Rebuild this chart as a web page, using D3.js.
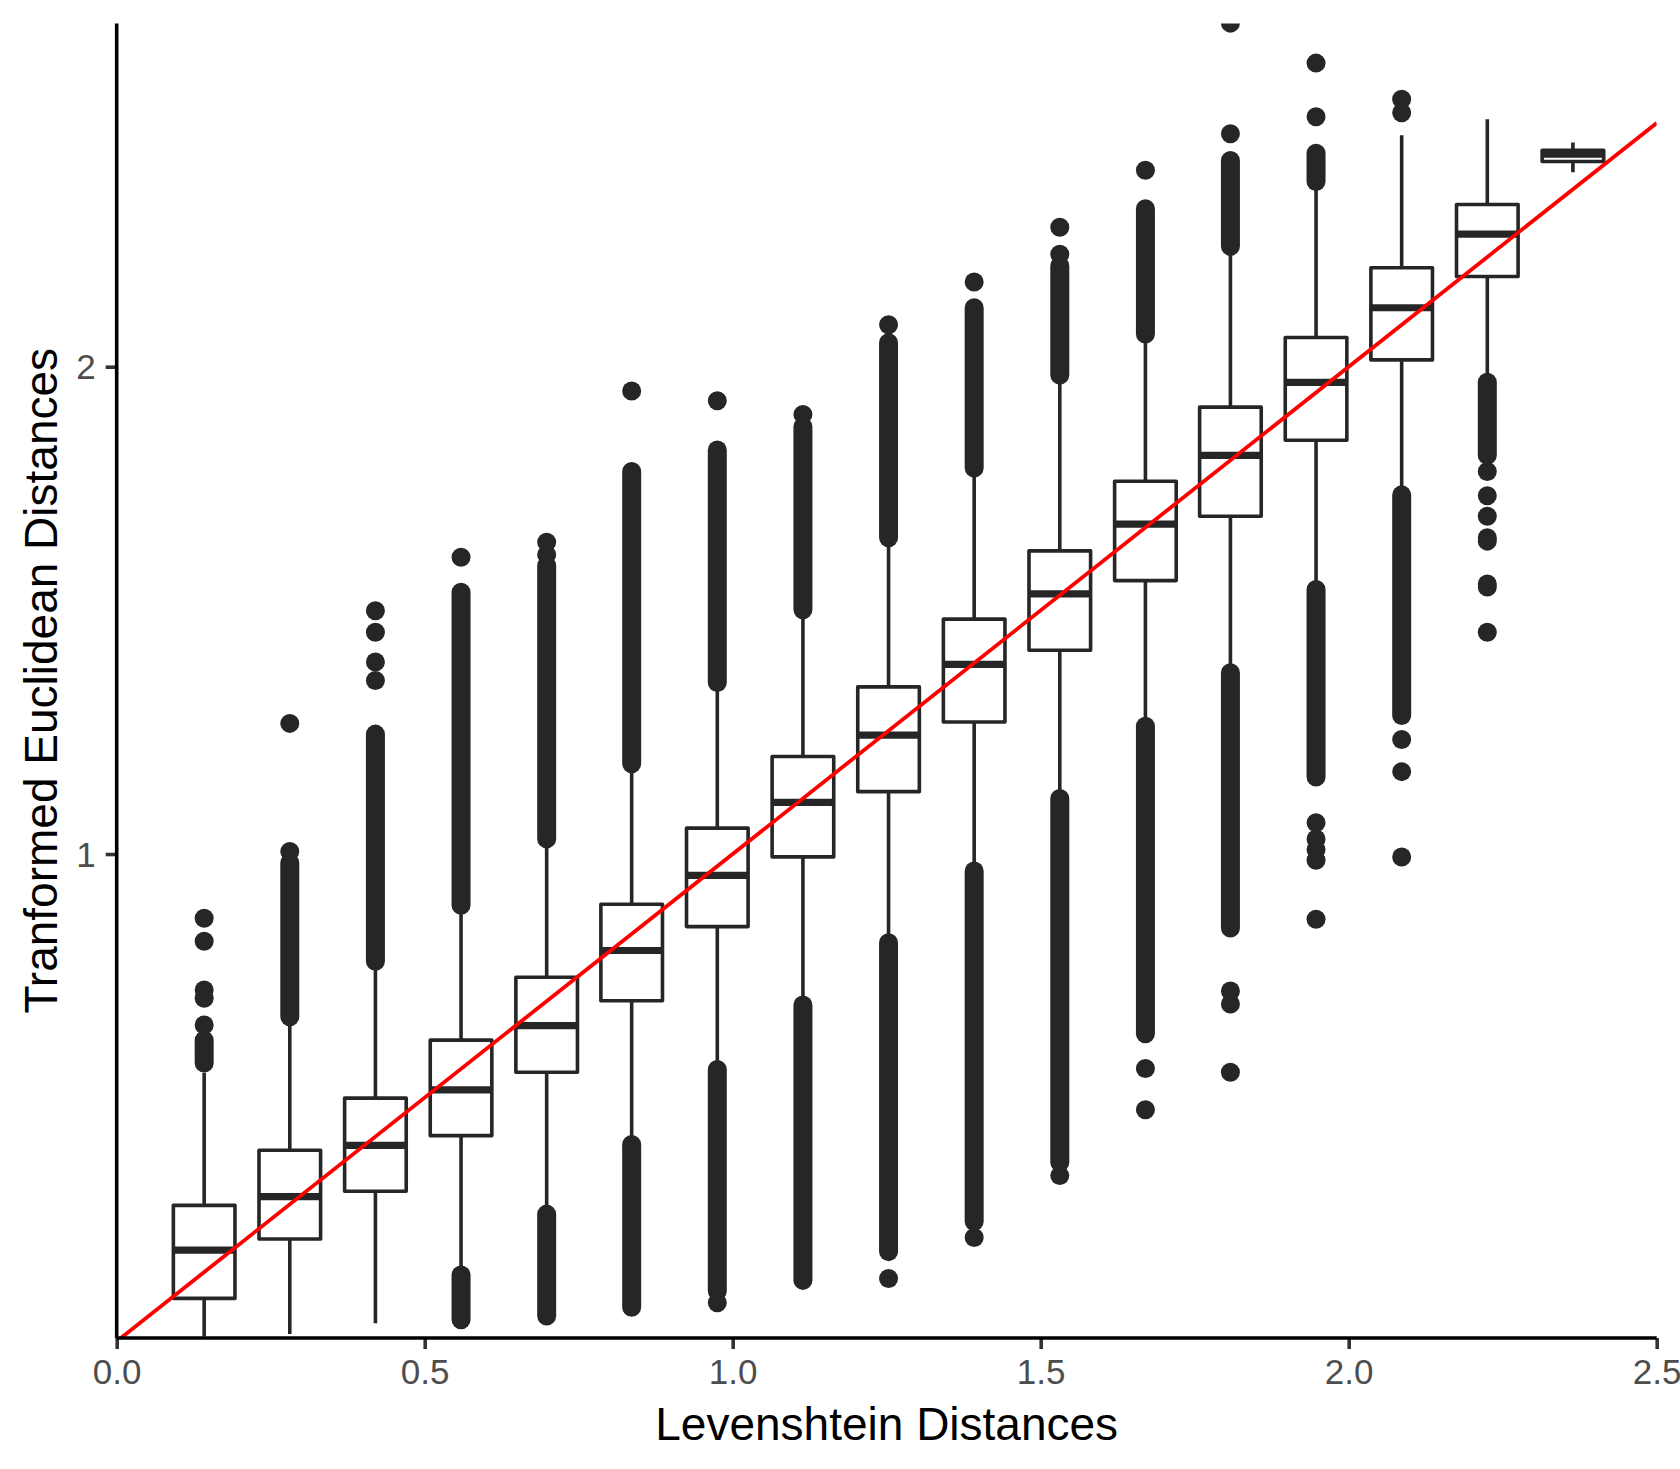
<!DOCTYPE html>
<html>
<head>
<meta charset="utf-8">
<script src="https://cdn.jsdelivr.net/npm/d3@7"></script>
<style>
  body { margin: 0; background: #ffffff; }
  svg { display: block; }
  text { font-family: "Liberation Sans", Arial, Helvetica, sans-serif; }
</style>
</head>
<body>
<div id="chart"></div>
<script>
// Box centres on the Levenshtein axis
var levDist = [0.142, 0.281, 0.420, 0.559, 0.698, 0.836, 0.975, 1.114, 1.253,
  1.392, 1.531, 1.670, 1.808, 1.947, 2.086, 2.225, 2.364];

// Box statistics (transformed euclidean distance)
var whiskerLow = [0.010, 0.015, 0.037, 0.140, 0.268, 0.411, 0.565, 0.697, 0.824,
  0.972, 1.121, 1.268, 1.378, 1.550, 1.745, 1.975, 2.399];
var q1 = [0.088, 0.210, 0.308, 0.422, 0.552, 0.699, 0.851, 0.994, 1.128,
  1.271, 1.418, 1.561, 1.693, 1.849, 2.014, 2.185, 2.421];
var medians = [0.187, 0.297, 0.402, 0.516, 0.648, 0.802, 0.956, 1.106, 1.244,
  1.389, 1.534, 1.677, 1.818, 1.968, 2.121, 2.272, 2.436];
var q3 = [0.279, 0.392, 0.499, 0.618, 0.747, 0.897, 1.053, 1.200, 1.343,
  1.482, 1.622, 1.765, 1.917, 2.060, 2.203, 2.333, 2.444];
var whiskerHigh = [0.551, 0.655, 0.774, 0.888, 1.024, 1.178, 1.345, 1.495, 1.642,
  1.785, 1.979, 2.060, 2.242, 2.374, 2.475, 2.508, 2.460];

// Isolated outliers per box
var outlierPoints = [
  [0.868, 0.821, 0.721, 0.704, 0.649],
  [1.268, 1.005],
  [1.499, 1.455, 1.394, 1.356],
  [1.609],
  [1.640, 1.614],
  [1.950],
  [1.930, 0.079],
  [1.902],
  [2.086, 0.129],
  [2.174, 0.213],
  [2.286, 2.231, 0.340],
  [2.403, 0.560, 0.475],
  [2.705, 2.478, 0.719, 0.692, 0.552],
  [2.623, 2.513, 1.064, 1.031, 1.009, 0.987, 0.866],
  [2.549, 2.521, 1.235, 1.169, 0.994],
  [1.785, 1.735, 1.693, 1.649, 1.642, 1.554, 1.548, 1.455],
  []
];

// Runs of outliers so dense they merge into one column [low, high]
var outlierBands = [
  [[0.571, 0.618]],
  [[0.666, 0.982]],
  [[0.780, 1.246]],
  [[0.895, 1.537], [0.044, 0.136]],
  [[1.031, 1.592], [0.052, 0.261]],
  [[1.185, 1.785], [0.070, 0.404]],
  [[1.352, 1.829], [0.103, 0.558]],
  [[1.501, 1.877], [0.125, 0.690]],
  [[1.649, 2.049], [0.184, 0.818]],
  [[1.792, 2.121], [0.246, 0.965]],
  [[1.983, 2.207], [0.367, 1.114]],
  [[2.067, 2.324], [0.631, 1.262]],
  [[2.247, 2.423], [0.848, 1.372]],
  [[2.380, 2.438], [1.158, 1.543]],
  [[1.284, 1.737]],
  [[1.818, 1.968]],
  []
];

var xTicks = [0, 0.5, 1, 1.5, 2, 2.5];
var yTicks = [1, 2];

var width = 1680;
var height = 1469;
var padLeft = 116.7, padTop = 23.5, padRight = 1656.7, padBottom = 1338;

var boxColor = "#262626";
var dotR = 9.5;
var boxW = 0.1;
var lineW = 3.6;

var svg = d3.select("#chart")
  .append("svg")
  .attr("width", width)
  .attr("height", height);

var xScale = d3.scaleLinear().domain([0, 2.5]).range([padLeft, padRight]);
var yScale = d3.scaleLinear().domain([0, 2]).range([1341.3, 366.7]);

svg.append("clipPath")
  .attr("id", "panel")
  .append("rect")
  .attr("x", padLeft)
  .attr("y", padTop)
  .attr("width", padRight - padLeft)
  .attr("height", padBottom - padTop);

var panel = svg.append("g").attr("clip-path", "url(#panel)");

var boxes = levDist.map(function (d, i) {
  return {
    x: d, lo: whiskerLow[i], q1: q1[i], med: medians[i], q3: q3[i],
    hi: whiskerHigh[i], pts: outlierPoints[i], bands: outlierBands[i]
  };
});

var g = panel.selectAll("g.box").data(boxes).enter()
  .append("g")
  .attr("class", "box");

// dense outlier columns
g.selectAll("line.band")
  .data(function (d) {
    return d.bands.map(function (b) { return { x: d.x, lo: b[0], hi: b[1] }; });
  })
  .enter()
  .append("line")
  .attr("class", "band")
  .attr("x1", function (d) { return xScale(d.x); })
  .attr("x2", function (d) { return xScale(d.x); })
  .attr("y1", function (d) { return yScale(d.lo); })
  .attr("y2", function (d) { return yScale(d.hi); })
  .attr("stroke", boxColor)
  .attr("stroke-width", dotR * 2)
  .attr("stroke-linecap", "round");

// single outliers
g.selectAll("circle")
  .data(function (d) {
    return d.pts.map(function (p) { return { x: d.x, y: p }; });
  })
  .enter()
  .append("circle")
  .attr("cx", function (d) { return xScale(d.x); })
  .attr("cy", function (d) { return yScale(d.y); })
  .attr("r", dotR)
  .attr("fill", boxColor);

// whiskers
g.append("line")
  .attr("x1", function (d) { return xScale(d.x); })
  .attr("x2", function (d) { return xScale(d.x); })
  .attr("y1", function (d) { return yScale(d.hi); })
  .attr("y2", function (d) { return yScale(d.lo); })
  .attr("stroke", boxColor)
  .attr("stroke-width", lineW);

// boxes
g.append("rect")
  .attr("x", function (d) { return xScale(d.x - boxW / 2); })
  .attr("width", function (d) { return xScale(d.x + boxW / 2) - xScale(d.x - boxW / 2); })
  .attr("y", function (d) { return yScale(d.q3); })
  .attr("height", function (d) { return yScale(d.q1) - yScale(d.q3); })
  .attr("fill", "#ffffff")
  .attr("stroke", boxColor)
  .attr("stroke-width", lineW)
  .attr("stroke-linejoin", "round");

// medians
g.append("line")
  .attr("x1", function (d) { return xScale(d.x - boxW / 2); })
  .attr("x2", function (d) { return xScale(d.x + boxW / 2); })
  .attr("y1", function (d) { return yScale(d.med); })
  .attr("y2", function (d) { return yScale(d.med); })
  .attr("stroke", boxColor)
  .attr("stroke-width", 7.2);

// identity line
panel.append("line")
  .attr("x1", xScale(0))
  .attr("y1", yScale(0))
  .attr("x2", xScale(2.5))
  .attr("y2", yScale(2.5))
  .attr("stroke", "#ff0000")
  .attr("stroke-width", 3.8);

// axes
var xAxis = d3.axisBottom(xScale)
  .tickValues(xTicks)
  .tickFormat(d3.format(".1f"))
  .tickSize(11)
  .tickPadding(10);

var yAxis = d3.axisLeft(yScale)
  .tickValues(yTicks)
  .tickFormat(d3.format("d"))
  .tickSize(11)
  .tickPadding(10);

var gx = svg.append("g")
  .attr("transform", "translate(0," + padBottom + ")")
  .call(xAxis);

var gy = svg.append("g")
  .attr("transform", "translate(" + padLeft + ",0)")
  .call(yAxis);

[gx, gy].forEach(function (a) {
  a.select(".domain").remove();
  a.selectAll(".tick line").attr("stroke", "#333333").attr("stroke-width", lineW);
  a.selectAll(".tick text")
    .attr("fill", "#4d4d4d")
    .style("font-size", "35px");
});

gx.selectAll(".tick text").attr("dy", "0.71em");
gy.selectAll(".tick text").attr("dy", "0.35em");

// axis lines
svg.append("line")
  .attr("x1", padLeft).attr("x2", padRight)
  .attr("y1", padBottom).attr("y2", padBottom)
  .attr("stroke", "#000000")
  .attr("stroke-width", lineW);

svg.append("line")
  .attr("x1", padLeft).attr("x2", padLeft)
  .attr("y1", padTop).attr("y2", padBottom)
  .attr("stroke", "#000000")
  .attr("stroke-width", lineW);

// axis titles
svg.append("text")
  .attr("x", (padLeft + padRight) / 2)
  .attr("y", 1440)
  .attr("text-anchor", "middle")
  .attr("fill", "#000000")
  .style("font-size", "46px")
  .text("Levenshtein Distances");

svg.append("text")
  .attr("transform", "translate(57," + ((padTop + padBottom) / 2) + ")rotate(-90)")
  .attr("text-anchor", "middle")
  .attr("fill", "#000000")
  .style("font-size", "46px")
  .text("Tranformed Euclidean Distances");
</script>
</body>
</html>
